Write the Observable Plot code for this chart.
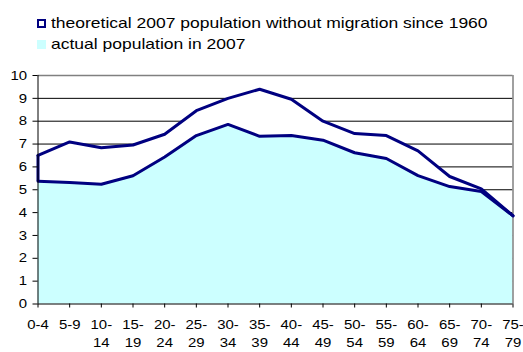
<!DOCTYPE html>
<html><head><meta charset="utf-8">
<script src="https://cdn.jsdelivr.net/npm/d3@7"></script>
<script src="https://cdn.jsdelivr.net/npm/@observablehq/plot@0.6"></script>
<style>
body{margin:0;background:#fff;font-family:"Liberation Sans",Arial,sans-serif;}
#legend{position:relative;height:50px;width:523px;}
.item{position:absolute;left:37px;height:14px;display:flex;align-items:center;font-size:15px;color:#000;white-space:nowrap;line-height:14px}
.sw{width:9px;height:9px;box-sizing:border-box;margin-right:5px;flex:none}
.lt{display:inline-block;transform:scaleX(1.166);transform-origin:0 50%}
</style></head><body>
<div id="legend"></div>
<div id="chart"></div>
<script>
const ageGroups = ["0-4","5-9","10-14","15-19","20-24","25-29","30-34","35-39","40-44","45-49","50-54","55-59","60-64","65-69","70-74","75-79"];
const tickLabels = ["0-4","5-9","10-\n14","15-\n19","20-\n24","25-\n29","30-\n34","35-\n39","40-\n44","45-\n49","50-\n54","55-\n59","60-\n64","65-\n69","70-\n74","75-\n79"];
const theoretical = [6.5, 7.09, 6.84, 6.96, 7.43, 8.46, 9.0, 9.4, 8.96, 8.0, 7.46, 7.37, 6.70, 5.58, 5.04, 3.86];
const actual = [5.37, 5.32, 5.24, 5.61, 6.43, 7.37, 7.86, 7.34, 7.37, 7.17, 6.62, 6.37, 5.62, 5.14, 4.92, 3.86];
const yTicks = [0,1,2,3,4,5,6,7,8,9,10];
const gridValues = [1,2,3,4,5,6,7,8,9];
const seriesNames = ["theoretical 2007 population without migration since 1960", "actual population in 2007"];

const navy = "#000080", cyan = "#CCFFFF";

// legend
const legend = document.getElementById("legend");
[[seriesNames[0], "#fff", `2px solid ${navy}`, 16], [seriesNames[1], cyan, "none", 37]].forEach(([name, fill, border, top]) => {
  const it = document.createElement("div");
  it.className = "item";
  it.style.top = top + "px";
  const sw = document.createElement("span");
  sw.className = "sw";
  sw.style.background = fill;
  sw.style.border = border;
  it.appendChild(sw);
  const tx = document.createElement("span");
  tx.className = "lt";
  tx.textContent = name;
  it.appendChild(tx);
  legend.appendChild(it);
});

const data = ageGroups.map((g, i) => ({i, g, t: theoretical[i], a: actual[i]}));
const last = ageGroups.length - 1;

const chart = Plot.plot({
  width: 523,
  height: 302,
  marginTop: 25,
  marginBottom: 48.5,
  marginLeft: 37.5,
  marginRight: 10.5,
  style: {fontFamily: "'Liberation Sans', Arial, sans-serif", fontSize: "13px", color: "#000", background: "#fff"},
  x: {domain: [0, last]},
  y: {domain: [0, 10]},
  marks: [
    Plot.ruleY(gridValues, {stroke: "#000", strokeWidth: 1}),
    Plot.areaY(data, {x: "i", y: "t", fill: "#fff"}),
    Plot.areaY(data, {x: "i", y: "a", fill: cyan}),
    Plot.ruleY([10], {stroke: "#808080", strokeWidth: 1.5}),
    Plot.ruleX([last], {y1: 0, y2: 10, stroke: "#808080", strokeWidth: 1.5}),
    Plot.ruleX([0], {y1: actual[0], y2: theoretical[0], stroke: navy, strokeWidth: 3}),
    Plot.lineY(data, {x: "i", y: "t", stroke: navy, strokeWidth: 3, strokeLinejoin: "round"}),
    Plot.lineY(data, {x: "i", y: "a", stroke: navy, strokeWidth: 3, strokeLinejoin: "round"}),
    Plot.ruleX([0], {y1: 0, y2: 10, stroke: "#000", strokeWidth: 1}),
    Plot.ruleY([0], {stroke: "#000", strokeWidth: 1}),
    Plot.axisY({ticks: yTicks, tickSize: 5, tickPadding: 6, label: null, stroke: "#000", tickFormat: d => String(d), fontSize: 13}),
    Plot.axisX({ticks: d3.range(ageGroups.length), tickSize: 4, tickPadding: 9, label: null, tickFormat: i => tickLabels[i], lineHeight: 1.35, fontSize: 13})
  ]
});
// widen tick label glyphs slightly to match the reference's stretched lettering
d3.select(chart).selectAll("g[aria-label='x-axis tick label'] text, g[aria-label='y-axis tick label'] text")
  .attr("transform", function() { return (this.getAttribute("transform") || "") + " scale(1.15,1)"; });
document.getElementById("chart").appendChild(chart);
</script>
</body></html>
